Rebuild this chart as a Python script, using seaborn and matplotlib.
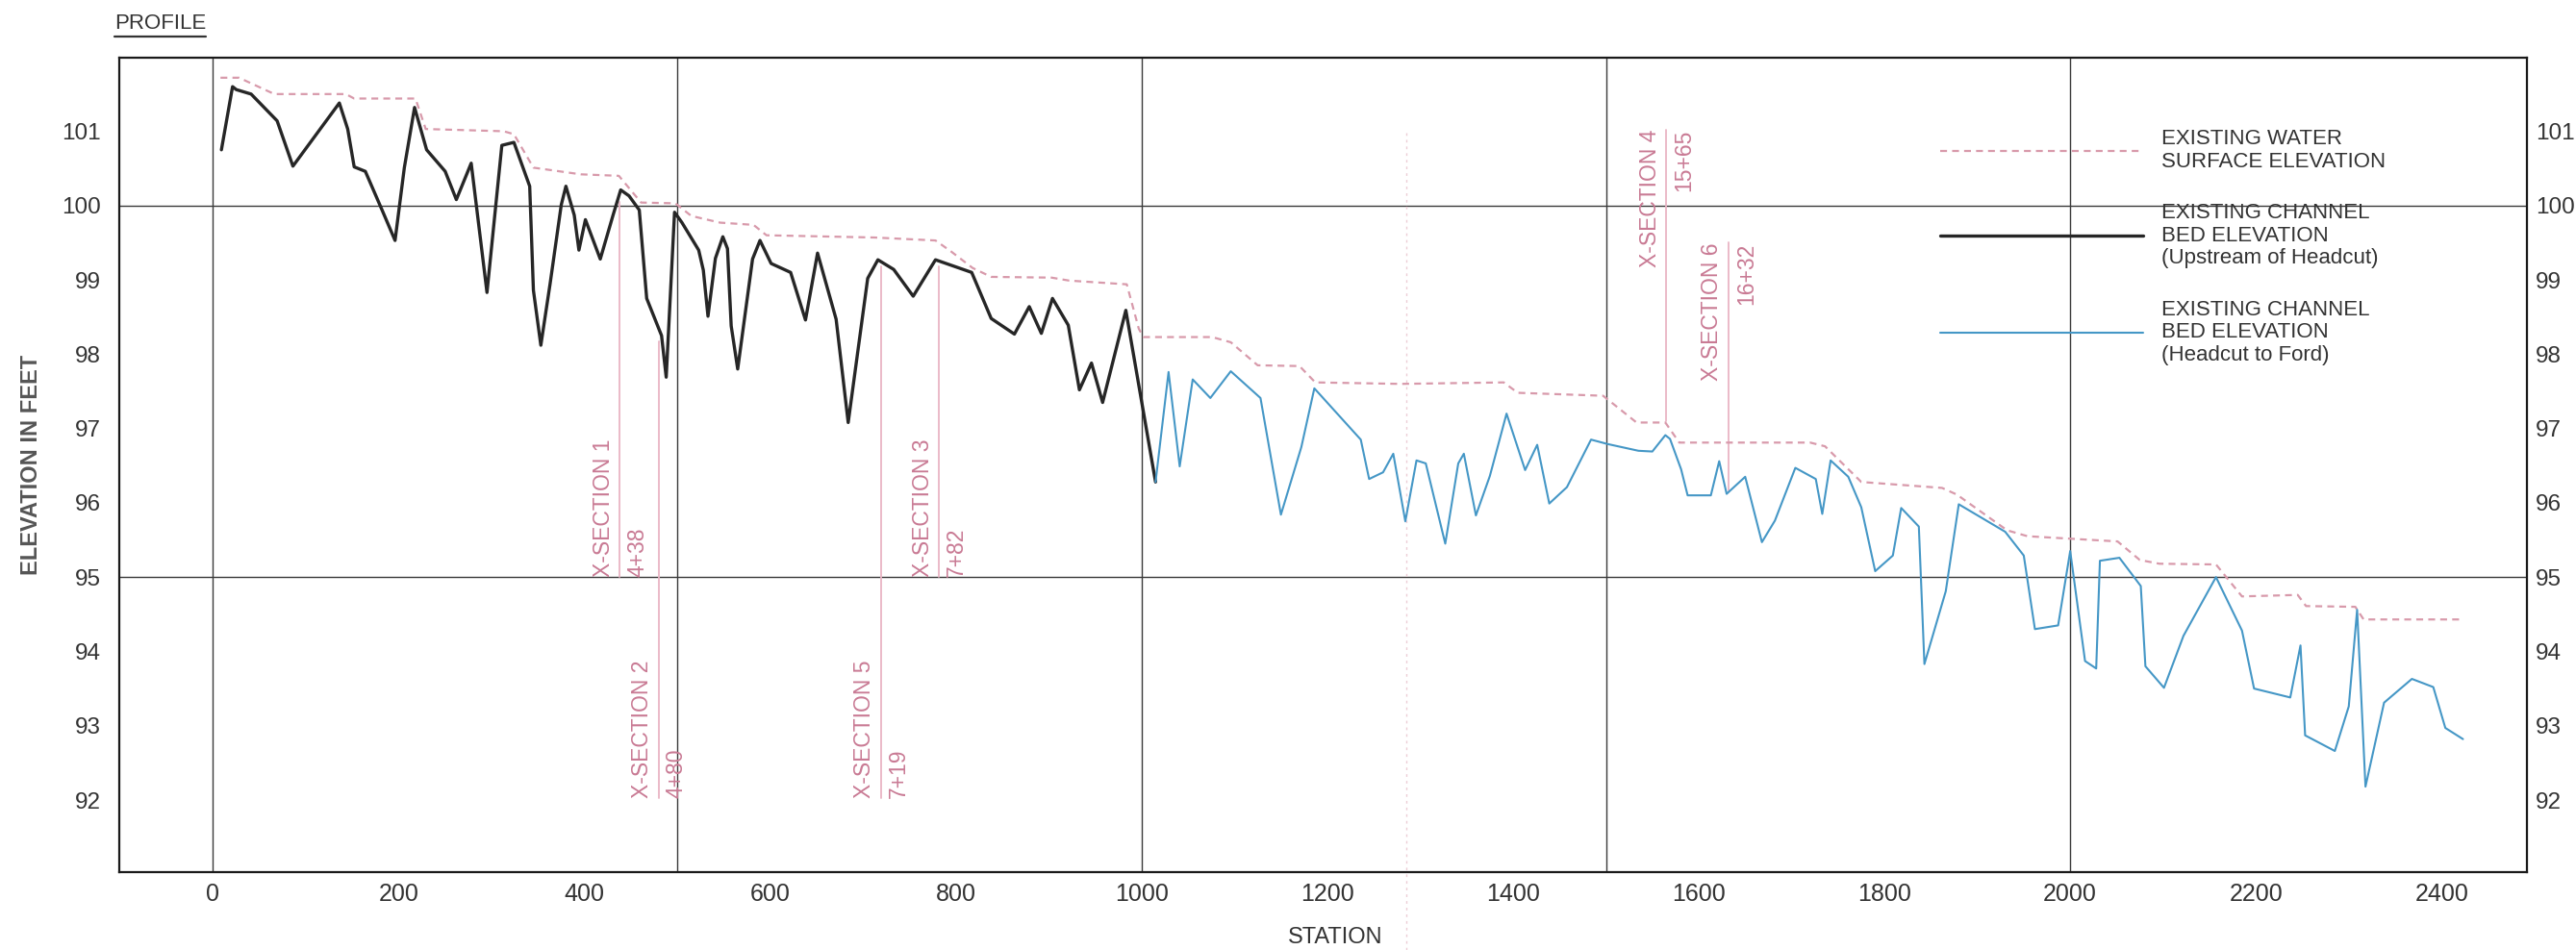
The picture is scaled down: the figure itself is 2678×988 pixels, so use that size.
import numpy as np
import pandas as pd
import matplotlib
matplotlib.use("Agg")
import matplotlib.pyplot as plt
import seaborn as sns
from matplotlib.lines import Line2D

# ---------------- data ----------------
# Existing water surface elevation (dashed)
ws_station = [8, 28, 66, 143, 152, 218, 229, 313, 324, 345, 396, 437, 461, 498, 515, 546,
              582, 596, 712, 778, 795, 818, 838, 903, 922, 984, 997, 1002, 1076, 1096, 1125,
              1170, 1187, 1279, 1390, 1405, 1497, 1533, 1564, 1579, 1720, 1736, 1775, 1862,
              1878, 1932, 1954, 2051, 2075, 2096, 2157, 2185, 2245, 2254, 2307, 2316, 2423]
ws_elev = [101.72, 101.72, 101.50, 101.50, 101.44, 101.44, 101.03, 101.00, 100.96, 100.51,
           100.42, 100.40, 100.04, 100.03, 99.86, 99.77, 99.74, 99.60, 99.57, 99.53, 99.38,
           99.16, 99.04, 99.03, 98.99, 98.94, 98.34, 98.23, 98.23, 98.16, 97.85, 97.84, 97.62,
           97.60, 97.62, 97.48, 97.44, 97.08, 97.08, 96.81, 96.81, 96.76, 96.28, 96.20, 96.11,
           95.63, 95.55, 95.48, 95.23, 95.18, 95.17, 94.74, 94.76, 94.61, 94.60, 94.43, 94.43]

# Existing channel bed elevation, upstream of headcut (black)
up_station = [9, 21, 25, 41, 69, 86, 136, 145, 152, 164, 182, 196, 206, 217, 230, 250, 262,
              278, 295, 311, 324, 341, 345, 353, 363, 375, 380, 389, 394, 401, 417, 431, 439,
              448, 459, 467, 483, 488, 497, 505, 523, 528, 533, 541, 549, 554, 558, 565, 581,
              589, 601, 622, 638, 651, 671, 684, 705, 716, 733, 754, 778, 817, 838, 863, 879,
              892, 904, 921, 933, 946, 958, 983, 1015]
up_elev = [100.75, 101.60, 101.56, 101.50, 101.14, 100.53, 101.38, 101.03, 100.52, 100.46,
           99.94, 99.53, 100.51, 101.32, 100.75, 100.46, 100.08, 100.57, 98.83, 100.81, 100.85,
           100.26, 98.86, 98.12, 98.95, 100.01, 100.26, 99.87, 99.40, 99.81, 99.28, 99.88,
           100.21, 100.13, 99.94, 98.75, 98.25, 97.69, 99.91, 99.77, 99.40, 99.13, 98.51, 99.29,
           99.58, 99.42, 98.38, 97.80, 99.28, 99.53, 99.22, 99.10, 98.46, 99.36, 98.47, 97.08,
           99.02, 99.27, 99.14, 98.78, 99.27, 99.10, 98.48, 98.27, 98.64, 98.28, 98.75, 98.39,
           97.52, 97.88, 97.35, 98.59, 96.28]

# Existing channel bed elevation, headcut to ford (blue)
hc_station = [1015, 1029, 1041, 1055, 1074, 1096, 1128, 1150, 1172, 1186, 1236, 1245, 1260,
              1271, 1284, 1296, 1306, 1327, 1341, 1347, 1360, 1375, 1393, 1413, 1426, 1439,
              1458, 1484, 1502, 1535, 1550, 1564, 1569, 1581, 1588, 1613, 1622, 1630, 1650,
              1668, 1682, 1704, 1726, 1733, 1742, 1761, 1775, 1790, 1809, 1818, 1837, 1843,
              1866, 1880, 1930, 1950, 1962, 1987, 2000, 2016, 2028, 2032, 2053, 2076, 2081,
              2101, 2122, 2157, 2185, 2198, 2237, 2248, 2253, 2285, 2300, 2309, 2318, 2338,
              2368, 2391, 2404, 2423]
hc_elev = [96.28, 97.76, 96.49, 97.66, 97.41, 97.77, 97.41, 95.84, 96.75, 97.54, 96.85, 96.32,
           96.41, 96.66, 95.75, 96.57, 96.53, 95.45, 96.53, 96.66, 95.83, 96.36, 97.20, 96.44,
           96.78, 95.99, 96.21, 96.85, 96.79, 96.70, 96.69, 96.91, 96.86, 96.45, 96.10, 96.10,
           96.56, 96.12, 96.35, 95.47, 95.76, 96.47, 96.32, 95.85, 96.57, 96.35, 95.94, 95.08,
           95.29, 95.93, 95.68, 93.83, 94.81, 95.98, 95.61, 95.29, 94.30, 94.35, 95.35, 93.87,
           93.77, 95.22, 95.26, 94.88, 93.80, 93.51, 94.21, 95.00, 94.28, 93.50, 93.38, 94.08,
           92.87, 92.66, 93.26, 94.56, 92.18, 93.31, 93.63, 93.52, 92.97, 92.82]

# Cross-section markers
xs_name = ["X-SECTION 1", "X-SECTION 2", "X-SECTION 5", "X-SECTION 3", "X-SECTION 4", "X-SECTION 6"]
xs_label = ["4+38", "4+80", "7+19", "7+82", "15+65", "16+32"]
xs_station = [438, 480, 719, 782, 1565, 1632]
xs_top = [100.05, 98.17, 99.18, 99.18, 101.02, 99.50]
xs_bottom = [95.00, 92.02, 92.02, 95.00, 97.10, 96.17]
xs_anchor = ["bottom", "bottom", "bottom", "bottom", "top", "top"]

series_labels = ["EXISTING WATER\nSURFACE ELEVATION",
                 "EXISTING CHANNEL\nBED ELEVATION\n(Upstream of Headcut)",
                 "EXISTING CHANNEL\nBED ELEVATION\n(Headcut to Ford)"]

x_ticks = list(range(0, 2401, 200))
y_ticks = list(range(92, 102))
grid_x = [0, 500, 1000, 1500, 2000]
grid_y = [95, 100]
fold_station = 1285

# ---------------- style ----------------
sns.set_style("white")
plt.rcParams['font.family'] = ['Liberation Sans', 'DejaVu Sans']

C_TEXT = "#333333"
C_GRID = "#3a3a3a"
C_WS = "#d89aab"
C_UP = "#262626"
C_HC = "#4597c6"
C_XS_T = "#c97a94"
C_XS_L = "#e9b4c4"

fig = plt.figure(figsize=(26.78, 9.88), dpi=100)
ax = fig.add_axes([0.0463, 0.0820, 0.9347, 0.8573])
ax.set_xlim(-101, 2492)
ax.set_ylim(91.03, 101.99)

for gx in grid_x:
    ax.axvline(gx, color=C_GRID, lw=1.0, zorder=1)
for gy in grid_y:
    ax.axhline(gy, color=C_GRID, lw=1.0, zorder=1)

# faint scan fold line
ax.axvline(fold_station, ymin=-0.096, ymax=0.91, color="#eccdd6", lw=1.0,
           ls=(0, (2, 3)), clip_on=False, zorder=1)

# cross-section markers
for name, lab, st, top, bot, anc in zip(xs_name, xs_label, xs_station, xs_top, xs_bottom, xs_anchor):
    ax.plot([st, st], [bot, top], color=C_XS_L, lw=1.3, zorder=2)
    y_anchor = bot if anc == "bottom" else top
    ax.annotate(name, xy=(st, y_anchor), xytext=(-4, 0), textcoords="offset points",
                rotation=90, ha="right", va=anc, fontsize=16.5, color=C_XS_T, zorder=2)
    ax.annotate(lab, xy=(st, y_anchor), xytext=(5, 0), textcoords="offset points",
                rotation=90, ha="left", va=anc, fontsize=16.5, color=C_XS_T, zorder=2)

df_ws = pd.DataFrame({"Station": ws_station, "Elevation": ws_elev})
df_up = pd.DataFrame({"Station": up_station, "Elevation": up_elev})
df_hc = pd.DataFrame({"Station": hc_station, "Elevation": hc_elev})

sns.lineplot(data=df_ws, x="Station", y="Elevation", ax=ax, color=C_WS, lw=1.6,
             linestyle=(0, (3.2, 2.4)), sort=False, estimator=None, label=series_labels[0], zorder=3)
sns.lineplot(data=df_up, x="Station", y="Elevation", ax=ax, color=C_UP, lw=2.4,
             sort=False, estimator=None, label=series_labels[1], zorder=4)
sns.lineplot(data=df_hc, x="Station", y="Elevation", ax=ax, color=C_HC, lw=1.5,
             sort=False, estimator=None, label=series_labels[2], zorder=4)

# axes / ticks
for sp in ax.spines.values():
    sp.set_color("#1a1a1a")
    sp.set_linewidth(1.6)
ax.set_xticks(x_ticks)
ax.set_xticklabels([str(t) for t in x_ticks])
ax.set_yticks(y_ticks)
ax.set_yticklabels([str(t) for t in y_ticks])
ax.tick_params(axis="x", length=0, pad=8, labelsize=18, labelcolor=C_TEXT)
ax.tick_params(axis="y", length=0, pad=14, labelsize=17.5, labelcolor=C_TEXT)
ax.grid(False)

ax2 = ax.twinx()
ax2.set_ylim(ax.get_ylim())
ax2.set_yticks(y_ticks)
ax2.set_yticklabels([str(t) for t in y_ticks])
ax2.tick_params(axis="y", length=0, pad=6.5, labelsize=17.5, labelcolor=C_TEXT)
for sp in ax2.spines.values():
    sp.set_visible(False)
ax2.grid(False)

ax.set_xlabel("STATION", fontsize=17, color=C_TEXT)
ax.xaxis.label.set_va("center")
ax.xaxis.set_label_coords(0.505, -0.080)
ax.set_ylabel("ELEVATION IN FEET", fontsize=17, fontweight="bold", color="#555555")
ax.yaxis.label.set_va("center")
ax.yaxis.set_label_coords(-0.0364, 0.50)

# legend
handles, labels = ax.get_legend_handles_labels()
leg = ax.legend(handles, labels, loc="upper left", bbox_to_anchor=(0.7563, 0.9125),
                bbox_transform=ax.transAxes, frameon=False, fontsize=16,
                handlelength=9.5, handletextpad=0.86, labelspacing=1.45,
                borderpad=0, borderaxespad=0)
for t in leg.get_texts():
    t.set_color(C_TEXT)
    t.set_linespacing(1.17)

# title
title = fig.text(119 / 2678, 1 - 24 / 988, "PROFILE", fontsize=16, color=C_TEXT,
                 ha="left", va="center")
fig.canvas.draw()
bb = title.get_window_extent()
W, H = fig.get_size_inches() * fig.dpi
fig.add_artist(Line2D([bb.x0 / W, bb.x1 / W], [(bb.y0 - 4) / H, (bb.y0 - 4) / H],
                      color=C_TEXT, lw=1.6, transform=fig.transFigure))

fig.savefig("out.png", dpi=100, facecolor="white")
